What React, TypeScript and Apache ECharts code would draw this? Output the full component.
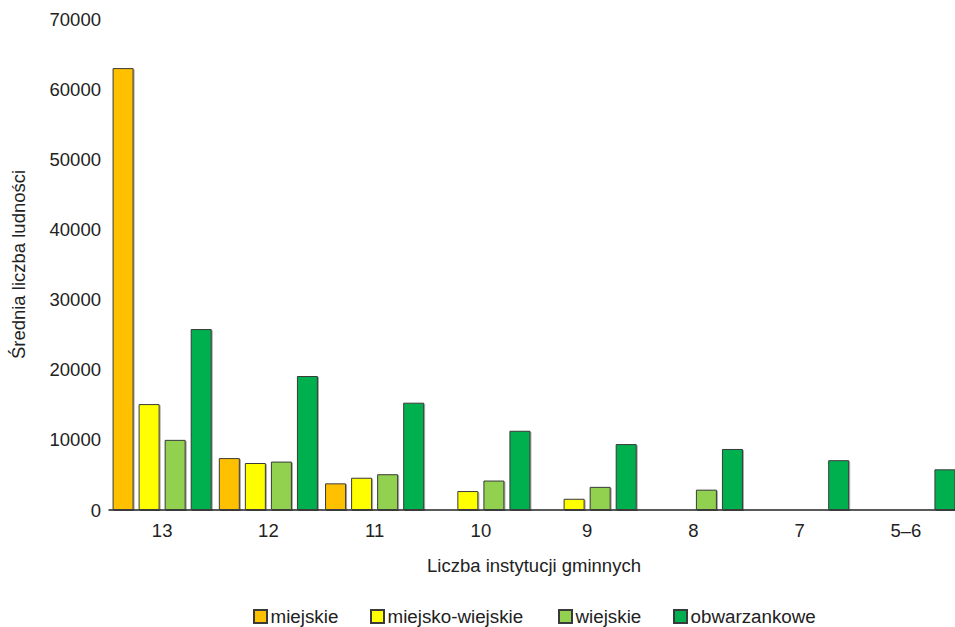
import React, { useEffect, useRef } from "react";
import * as echarts from "echarts";

const categories = ["13", "12", "11", "10", "9", "8", "7", "5–6"];
const seriesNames = ["miejskie", "miejsko-wiejskie", "wiejskie", "obwarzankowe"];
const miejskie = [63000, 7400, 3800, null, null, null, null, null];
const miejskoWiejskie = [15100, 6700, 4600, 2700, 1600, null, null, null];
const wiejskie = [10000, 6900, 5100, 4200, 3300, 2900, null, null];
const obwarzankowe = [25800, 19100, 15300, 11300, 9400, 8700, 7100, 5800];
const colors = ["#FFC000", "#FFFF00", "#92D050", "#00B050"];
const legendLeft = [253, 370, 558, 673];

export default function App() {
  const ref = useRef<HTMLDivElement>(null);
  useEffect(() => {
    const chart = echarts.init(ref.current!, null, { renderer: "svg" });
    const font = "'Liberation Sans', Arial, sans-serif";
    const fs = 18.5;
    const values = [miejskie, miejskoWiejskie, wiejskie, obwarzankowe];
    chart.setOption({
      animation: false,
      textStyle: { fontFamily: font },
      legend: seriesNames.map((n, i) => ({
        data: [n],
        left: legendLeft[i],
        top: 607,
        itemWidth: 13,
        itemHeight: 13,
        itemGap: 4,
        icon: "rect",
        textStyle: {
          fontFamily: font,
          fontSize: 18.8,
          lineHeight: 16,
          color: "#222",
          padding: [0, 0, 0, -1.5],
        },
        padding: 0,
      })),
      grid: {
        left: 109,
        right: -4,
        top: 19,
        bottom: 117,
        containLabel: false,
        outerBoundsMode: "none",
      },
      xAxis: {
        type: "category",
        data: categories,
        name: "Liczba instytucji gminnych",
        nameLocation: "middle",
        nameGap: 46,
        nameTextStyle: { fontFamily: font, fontSize: fs, color: "#222" },
        axisLine: { lineStyle: { color: "#222", width: 1.5 } },
        axisTick: { show: false },
        axisLabel: { fontFamily: font, fontSize: fs, color: "#222", margin: 11 },
      },
      yAxis: {
        type: "value",
        min: 0,
        max: 70000,
        interval: 10000,
        name: "Średnia liczba ludności",
        nameLocation: "middle",
        nameGap: 81,
        nameTextStyle: { fontFamily: font, fontSize: fs, color: "#222" },
        axisLine: { show: false },
        axisTick: { show: false },
        splitLine: { show: false },
        axisLabel: {
          fontFamily: font,
          fontSize: fs,
          color: "#222",
          margin: 8,
          formatter: (v: number) => String(v),
        },
      },
      series: seriesNames.map((n, i) => ({
        name: n,
        type: "bar",
        data: values[i],
        barWidth: 21,
        barGap: "24%",
        itemStyle: {
          color: colors[i],
          borderColor: "#3a3a3a",
          borderWidth: 1,
          shadowColor: "rgba(0,0,0,0.35)",
          shadowOffsetX: 1,
          shadowOffsetY: 1,
          shadowBlur: 1,
        },
      })),
    });
    return () => chart.dispose();
  }, []);
  return (
    <div
      ref={ref}
      style={{ position: "fixed", left: 0, top: 0, width: 955, height: 627, background: "#fff" }}
    />
  );
}
